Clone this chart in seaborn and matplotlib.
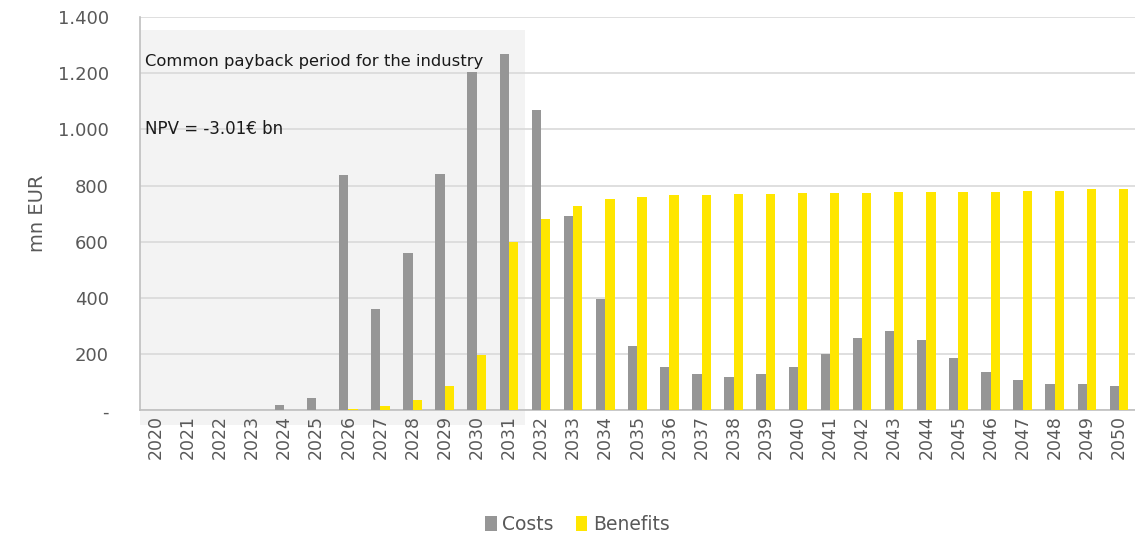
import numpy as np
import pandas as pd
import matplotlib
matplotlib.use("Agg")
import matplotlib.pyplot as plt
import seaborn as sns
from matplotlib.patches import Rectangle
from matplotlib.ticker import FuncFormatter

### data (mn EUR)
years = [str(y) for y in range(2020, 2051)]
costs = [0, 0, 0, 0, 18, 43, 838, 362, 560, 843, 1205, 1268, 1070, 692,
         397, 230, 155, 130, 120, 130, 155, 200, 258, 282, 250, 187, 137,
         108, 93, 93, 88]
benefits = [0, 0, 0, 0, 0, 0, 5, 15, 38, 88, 197, 600, 682, 728, 752, 760,
            765, 768, 770, 772, 773, 773, 773, 778, 778, 778, 778, 782, 782,
            787, 787]
series_names = ["Costs", "Benefits"]
note_period = "Common payback period for the industry"
note_npv = "NPV = -3.01€ bn"

df = pd.DataFrame({
    "Year": years * 2,
    "Series": [series_names[0]] * len(years) + [series_names[1]] * len(years),
    "Value": costs + benefits,
})

sns.set_style("white")
plt.rcParams["font.family"] = ["DejaVu Sans"]
txt = "#595959"

fig = plt.figure(figsize=(11.35, 5.37), dpi=100)
ax = fig.add_axes([0.123, 0.236, 0.877, 0.732])

# shaded payback period box (behind everything)
ax.add_patch(Rectangle((0, -0.038), 0.387, 1.005, transform=ax.transAxes,
                       facecolor="#f3f3f3", edgecolor="none", zorder=0,
                       clip_on=False))

sns.barplot(data=df, x="Year", y="Value", hue="Series",
            palette={"Costs": "#969696", "Benefits": "#ffe600"},
            width=0.58, saturation=1, linewidth=0, ax=ax, zorder=3)

ax.set_ylim(0, 1400)
ax.set_xlim(-0.5, len(years) - 0.5)
ax.set_yticks(np.arange(0, 1401, 200))
ax.yaxis.set_major_formatter(FuncFormatter(
    lambda v, p: "-" if v == 0 else "{:,.0f}".format(v).replace(",", ".")))
ax.yaxis.grid(True, color="#d9d9d9", linewidth=1.2, zorder=1)
ax.set_axisbelow(True)
ax.patch.set_alpha(0)

for s in ["top", "right"]:
    ax.spines[s].set_visible(False)
for s in ["left", "bottom"]:
    ax.spines[s].set_color("#bfbfbf")
    ax.spines[s].set_linewidth(1.2)

ax.tick_params(axis="y", labelsize=13, colors=txt, length=0, pad=22)
ax.tick_params(axis="x", labelsize=12.5, colors=txt, length=0, rotation=90)
ax.set_xlabel("")
ax.set_ylabel("mn EUR", fontsize=14, color=txt, labelpad=8)

ax.text(0.005, 0.888, note_period, transform=ax.transAxes, fontsize=11.8,
        color="#1a1a1a", va="center", ha="left")
ax.text(0.005, 0.715, note_npv, transform=ax.transAxes, fontsize=12,
        color="#1a1a1a", va="center", ha="left")

leg = ax.legend(loc="center", bbox_to_anchor=(0.44, -0.29), ncol=2,
                frameon=False, fontsize=13.5, handlelength=0.6,
                handleheight=0.9, handletextpad=0.3, columnspacing=1.2)
for t in leg.get_texts():
    t.set_color(txt)

fig.savefig("out.png", dpi=100)
